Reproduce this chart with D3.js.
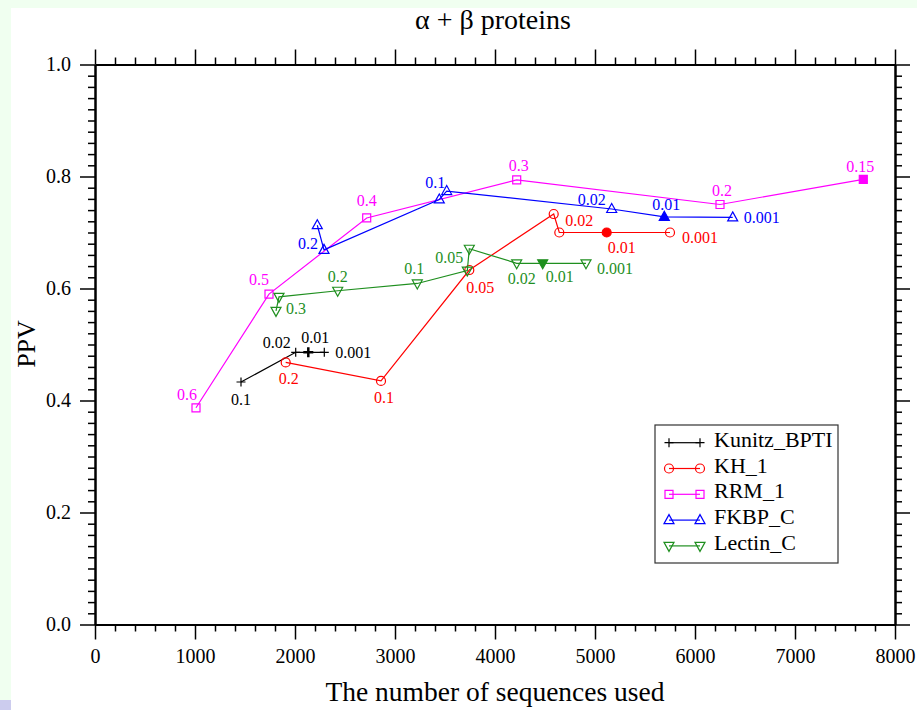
<!DOCTYPE html>
<html>
<head>
<meta charset="utf-8">
<script src="https://cdn.jsdelivr.net/npm/d3@7"></script>
<style>
body { margin: 0; background: #f0fff0; width: 917px; height: 710px; overflow: hidden; position: relative; }
#page { position: absolute; left: 11px; top: 8px; width: 906px; height: 702px; background: #fff; }
#corner { position: absolute; left: 0; top: 700px; width: 11px; height: 10px; background: #ccccee; }
#chart { position: absolute; left: 0; top: 0; }
text { font-family: "Liberation Serif", "Times New Roman", serif; }
</style>
</head>
<body>
<div id="page"></div>
<div id="corner"></div>
<svg id="chart" width="917" height="710"></svg>
<script>
// valeurs (seuil E-value en étiquette)
const kunitzX = [1460, 2007, 2133, 2293];
const kunitzY = [0.433, 0.486, 0.486, 0.486];
const kunitzLabels = ["0.1", "0.02", "0.01", "0.001"];

const khX = [1907, 2860, 3743, 4587, 4643, 5117, 5750];
const khY = [0.468, 0.435, 0.633, 0.733, 0.700, 0.700, 0.700];
const khLabels = ["0.2", "0.1", "0.05", "", "0.02", "0.01", "0.001"];

const rrmX = [1010, 1740, 2717, 4217, 6250, 7683];
const rrmY = [0.387, 0.590, 0.726, 0.794, 0.750, 0.795];
const rrmLabels = ["0.6", "0.5", "0.4", "0.3", "0.2", "0.15"];

const fkbpX = [2223, 2290, 3443, 3517, 5167, 5693, 6377];
const fkbpY = [0.713, 0.669, 0.759, 0.774, 0.742, 0.728, 0.727];
const fkbpLabels = ["", "0.2", "0.1", "", "0.02", "0.01", "0.001"];

const lectinX = [1810, 1840, 2427, 3223, 3723, 3743, 4217, 4477, 4910];
const lectinY = [0.560, 0.585, 0.596, 0.609, 0.632, 0.671, 0.645, 0.645, 0.645];
const lectinLabels = ["0.3", "", "0.2", "0.1", "", "0.05", "0.02", "0.01", "0.001"];

const seriesNames = ["Kunitz_BPTI", "KH_1", "RRM_1", "FKBP_C", "Lectin_C"];
const filledIndex = [2, 5, 5, 5, 7];

const xTicks = [0, 1000, 2000, 3000, 4000, 5000, 6000, 7000, 8000];
const yTicks = [0, 0.2, 0.4, 0.6, 0.8, 1.0];

// placement des étiquettes [dx, dy, ancrage]
const kunitzLabelPos = [[0, 17, "middle"], [-5, -10, "end"], [7, -15, "middle"], [11, 0, "start"]];
const khLabelPos = [[3, 16, "middle"], [3, 17, "middle"], [11, 17, "middle"], null, [6, -12, "start"], [15, 15, "middle"], [12, 5, "start"]];
const rrmLabelPos = [[-9, -13, "middle"], [-10, -15, "middle"], [0, -17, "middle"], [2, -14, "middle"], [2, -14, "middle"], [-3, -13, "middle"]];
const fkbpLabelPos = [null, [-6, -6, "end"], [-4, -17, "middle"], null, [-20, -9, "middle"], [2, -12, "middle"], [11, 0, "start"]];
const lectinLabelPos = [[10, -2, "start"], null, [0, -14, "middle"], [-3, -15, "middle"], null, [-6, 9, "end"], [5, 15, "middle"], [17, 13, "middle"], [11, 5, "start"]];

const colors = ["#000000", "#ff0000", "#ff00ff", "#0000ff", "#1f8f1f"];
const shapes = ["plus", "circle", "square", "up", "down"];

const series = [
    { xs: kunitzX, ys: kunitzY, labels: kunitzLabels, pos: kunitzLabelPos },
    { xs: khX, ys: khY, labels: khLabels, pos: khLabelPos },
    { xs: rrmX, ys: rrmY, labels: rrmLabels, pos: rrmLabelPos },
    { xs: fkbpX, ys: fkbpY, labels: fkbpLabels, pos: fkbpLabelPos },
    { xs: lectinX, ys: lectinY, labels: lectinLabels, pos: lectinLabelPos }
].map((s, i) => ({
    name: seriesNames[i],
    color: colors[i],
    shape: shapes[i],
    points: s.xs.map((x, j) => ({ x: x, y: s.ys[j], label: s.labels[j], pos: s.pos[j], filled: j === filledIndex[i] }))
}));

const svg = d3.select("#chart");

const x = d3.scaleLinear().domain([0, 8000]).range([95, 895]);
const y = d3.scaleLinear().domain([0, 1]).range([624.5, 64.5]);

const minorX = d3.range(0, 8001, 200).filter(v => v % 1000 !== 0);
const minorY = d3.range(0, 51).map(v => v / 50).filter(v => Math.round(v * 50) % 10 !== 0);

function styleAxis(g) {
    g.select(".domain").attr("stroke", "#000").attr("stroke-width", 2);
    g.selectAll(".tick line").attr("stroke", "#000").attr("stroke-width", 1.5);
    g.selectAll("text").attr("fill", "#000").style("font-size", "20px")
        .style("font-family", "'Liberation Serif', serif");
}

// ticks mineurs
svg.append("g").attr("transform", `translate(0,${y(0)})`)
    .call(d3.axisBottom(x).tickValues(minorX).tickSize(7).tickFormat("").tickSizeOuter(0)).call(styleAxis);
svg.append("g").attr("transform", `translate(0,${y(1)})`)
    .call(d3.axisTop(x).tickValues(minorX).tickSize(7).tickFormat("").tickSizeOuter(0)).call(styleAxis);
svg.append("g").attr("transform", `translate(${x(0)},0)`)
    .call(d3.axisLeft(y).tickValues(minorY).tickSize(7).tickFormat("").tickSizeOuter(0)).call(styleAxis);
svg.append("g").attr("transform", `translate(${x(8000)},0)`)
    .call(d3.axisRight(y).tickValues(minorY).tickSize(7).tickFormat("").tickSizeOuter(0)).call(styleAxis);

// ticks majeurs
svg.append("g").attr("transform", `translate(0,${y(0)})`)
    .call(d3.axisBottom(x).tickValues(xTicks).tickSize(15).tickPadding(9).tickSizeOuter(0).tickFormat(d3.format("d")))
    .call(styleAxis);
svg.append("g").attr("transform", `translate(0,${y(1)})`)
    .call(d3.axisTop(x).tickValues(xTicks).tickSize(15).tickFormat("").tickSizeOuter(0)).call(styleAxis);
svg.append("g").attr("transform", `translate(${x(0)},0)`)
    .call(d3.axisLeft(y).tickValues(yTicks).tickSize(15).tickPadding(9).tickSizeOuter(0).tickFormat(d3.format(".1f")))
    .call(styleAxis);
svg.append("g").attr("transform", `translate(${x(8000)},0)`)
    .call(d3.axisRight(y).tickValues(yTicks).tickSize(15).tickFormat("").tickSizeOuter(0)).call(styleAxis);

function markerPath(shape, big) {
    const p = d3.path();
    if (shape === "plus") {
        const r = big ? 5 : 4.5;
        p.moveTo(-r, 0); p.lineTo(r, 0); p.moveTo(0, -r); p.lineTo(0, r);
    } else if (shape === "circle") {
        p.moveTo(4.5, 0); p.arc(0, 0, 4.5, 0, 2 * Math.PI);
    } else if (shape === "square") {
        p.rect(-4, -4, 8, 8);
    } else if (shape === "up") {
        p.moveTo(0, -5.5); p.lineTo(5, 3.5); p.lineTo(-5, 3.5); p.closePath();
    } else {
        p.moveTo(0, 5.5); p.lineTo(5, -3.5); p.lineTo(-5, -3.5); p.closePath();
    }
    return p.toString();
}

const line = d3.line().x(d => x(d.x)).y(d => y(d.y));

const layers = svg.selectAll(".series")
    .data(series)
    .enter()
    .append("g")
    .attr("class", "series");

layers.append("path")
    .attr("d", d => line(d.points))
    .attr("fill", "none")
    .attr("stroke", d => d.color)
    .attr("stroke-width", 1.2);

layers.each(function (s) {
    const g = d3.select(this);
    g.selectAll(".mk")
        .data(s.points)
        .enter()
        .append("path")
        .attr("class", "mk")
        .attr("transform", d => `translate(${x(d.x)},${y(d.y)})`)
        .attr("d", d => markerPath(s.shape, d.filled))
        .attr("fill", d => (d.filled && s.shape !== "plus") ? s.color : "none")
        .attr("stroke", s.color)
        .attr("stroke-width", d => (d.filled && s.shape === "plus") ? 2.5 : 1.2);

    g.selectAll(".lbl")
        .data(s.points.filter(d => d.label && d.pos))
        .enter()
        .append("text")
        .attr("class", "lbl")
        .attr("x", d => x(d.x) + d.pos[0])
        .attr("y", d => y(d.y) + d.pos[1])
        .attr("text-anchor", d => d.pos[2])
        .attr("dominant-baseline", "central")
        .style("font-size", "16px")
        .attr("fill", s.color)
        .text(d => d.label);
});

// titres
svg.append("text")
    .attr("x", 493).attr("y", 29)
    .attr("text-anchor", "middle")
    .style("font-size", "28px")
    .text("α + β proteins");

svg.append("text")
    .attr("x", 495).attr("y", 701)
    .attr("text-anchor", "middle")
    .style("font-size", "27.5px")
    .text("The number of sequences used");

svg.append("text")
    .attr("transform", "translate(35,344) rotate(-90)")
    .attr("text-anchor", "middle")
    .style("font-size", "26px")
    .text("PPV");

// légende
const legend = svg.append("g").attr("transform", "translate(655,425)");
legend.append("rect")
    .attr("width", 183).attr("height", 138)
    .attr("fill", "#fff").attr("stroke", "#333").attr("stroke-width", 1.2);

const items = legend.selectAll(".item")
    .data(series)
    .enter()
    .append("g")
    .attr("transform", (d, i) => `translate(0,${17.7 + i * 25.8})`);

items.append("line")
    .attr("x1", 14).attr("x2", 45)
    .attr("stroke", d => d.color).attr("stroke-width", 1.2);

items.each(function (s) {
    d3.select(this).selectAll(".lm")
        .data([14, 45])
        .enter()
        .append("path")
        .attr("transform", d => `translate(${d},0)`)
        .attr("d", markerPath(s.shape, false))
        .attr("fill", "none")
        .attr("stroke", s.color)
        .attr("stroke-width", 1.2);
});

items.append("text")
    .attr("x", 59).attr("y", 4)
    .style("font-size", "22px")
    .text(d => d.name);
</script>
</body>
</html>
